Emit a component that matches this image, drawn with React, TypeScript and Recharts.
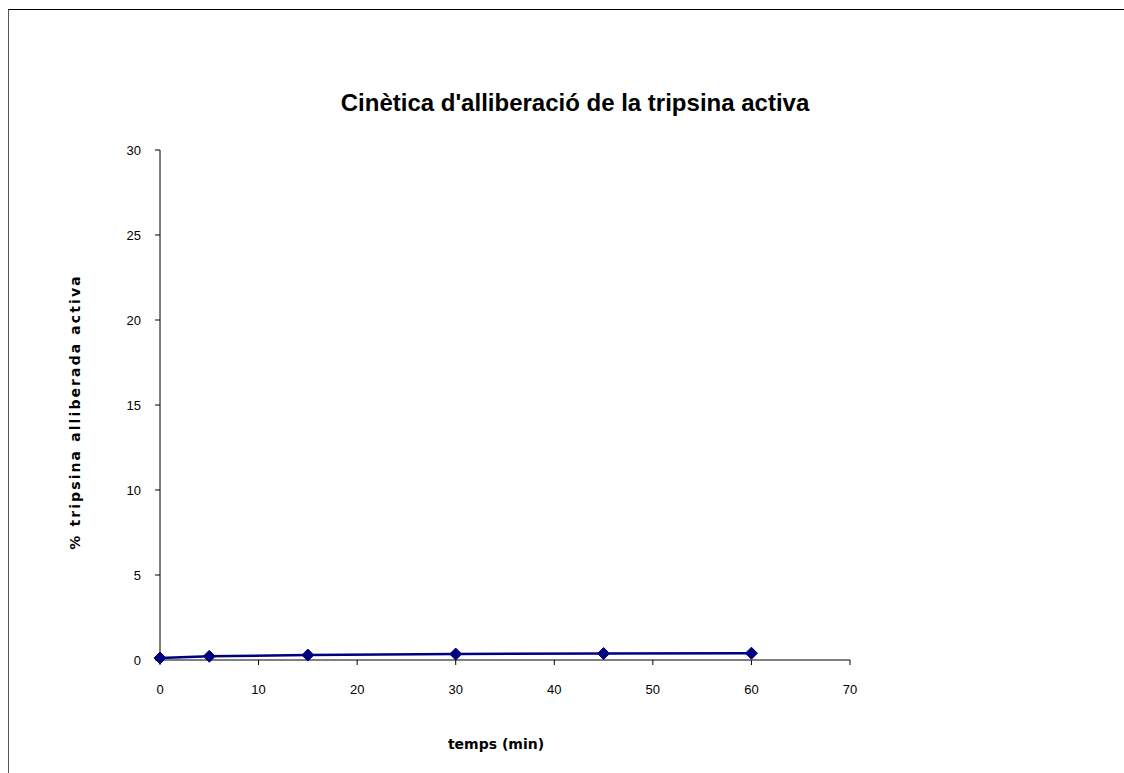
import { LineChart, Line, XAxis, YAxis } from "recharts";

const tempsMin = [0, 5, 15, 30, 45, 60];
const tripsinaActiva = [0.12, 0.22, 0.29, 0.35, 0.38, 0.4];
const xTicks = [0, 10, 20, 30, 40, 50, 60, 70];
const yTicks = [0, 5, 10, 15, 20, 25, 30];

const chartData = tempsMin.map((t, i) => ({ temps: t, valor: tripsinaActiva[i] }));

const FONT = "'Liberation Sans', Arial, sans-serif";
const BOLD_FONT = "'DejaVu Sans', Verdana, sans-serif";

const Diamond = (props: any) => {
  const { cx, cy, index } = props;
  if (cx == null || cy == null) return <g key={index} />;
  const r = 6;
  return (
    <path
      key={index}
      d={`M${cx},${cy - r}L${cx + r},${cy}L${cx},${cy + r}L${cx - r},${cy}Z`}
      fill="#000080"
      stroke="#000080"
    />
  );
};

export default function App() {
  return (
    <div
      style={{
        position: "absolute",
        left: 8,
        top: 9,
        width: 1116,
        height: 764,
        borderTop: "1px solid #000",
        borderLeft: "1px solid #555",
        background: "#fff",
      }}
    >
      <LineChart
        width={1115}
        height={763}
        data={chartData}
        margin={{ top: 140, right: 274, left: 0, bottom: 0 }}
      >
        <text
          x={566}
          y={95}
          textAnchor="middle"
          dominantBaseline="middle"
          style={{ fontFamily: FONT, fontSize: 24, fontWeight: "bold", fill: "#000" }}
        >
          Cinètica d'alliberació de la tripsina activa
        </text>
        <XAxis
          dataKey="temps"
          type="number"
          domain={[0, 70]}
          ticks={xTicks}
          height={113}
          tickSize={5}
          tickMargin={20}
          stroke="#000"
          tick={{ fill: "#000", fontSize: 13, fontFamily: FONT }}
          label={{
            content: (p: any) => {
              const vb = p.viewBox;
              return (
                <text
                  x={vb.x + vb.width / 2 - 9}
                  y={vb.y + 85}
                  textAnchor="middle"
                  dominantBaseline="middle"
                  style={{ fontFamily: BOLD_FONT, fontSize: 14, fontWeight: "bold", fill: "#000" }}
                >
                  temps (min)
                </text>
              );
            },
          }}
        />
        <YAxis
          type="number"
          domain={[0, 30]}
          ticks={yTicks}
          width={151}
          tickSize={5}
          tickMargin={14}
          stroke="#000"
          tick={{ fill: "#000", fontSize: 13, fontFamily: FONT }}
          label={{
            content: (p: any) => {
              const vb = p.viewBox;
              const cx = vb.x + 67;
              const cy = vb.y + vb.height / 2 + 7;
              return (
                <text
                  x={cx}
                  y={cy}
                  transform={`rotate(-90, ${cx}, ${cy})`}
                  textAnchor="middle"
                  dominantBaseline="middle"
                  style={{
                    fontFamily: BOLD_FONT,
                    fontSize: 14,
                    fontWeight: "bold",
                    letterSpacing: 2.1,
                    fill: "#000",
                  }}
                >
                  % tripsina alliberada activa
                </text>
              );
            },
          }}
        />
        <Line
          type="linear"
          dataKey="valor"
          stroke="#000080"
          strokeWidth={2.5}
          dot={Diamond}
          activeDot={false}
          isAnimationActive={false}
        />
      </LineChart>
    </div>
  );
}
